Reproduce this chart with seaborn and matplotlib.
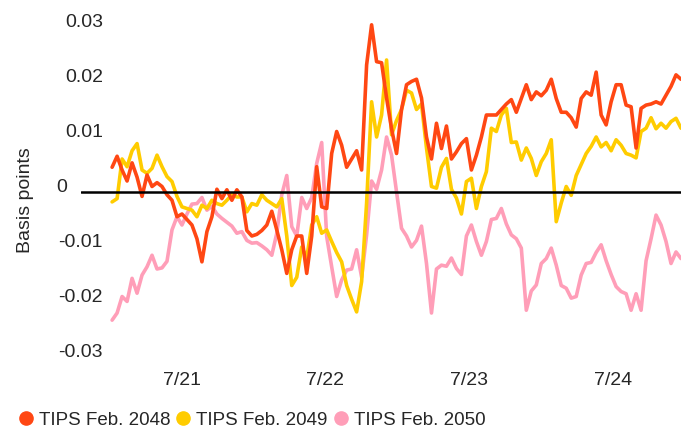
import pandas as pd
import matplotlib
matplotlib.use("Agg")
import matplotlib.pyplot as plt
from matplotlib.lines import Line2D
import seaborn as sns

# basis-point spreads, roughly every 12-13 days
series = ["TIPS Feb. 2048", "TIPS Feb. 2049", "TIPS Feb. 2050"]
colors = ["#FF4713", "#FFCC00", "#FF9EB8"]

tips_2048 = [0.0045, 0.0065, 0.0040, 0.0020, 0.0053, 0.0027, -0.0008, 0.0031, 0.0010, 0.0017,
             0.0010, -0.0005, -0.0015, -0.0045, -0.0040, -0.0050, -0.0060, -0.0085, -0.0127, -0.0072,
             -0.0045, 0.0005, -0.0012, 0.0004, -0.0015, 0.0004, -0.0009, -0.0070, -0.0080, -0.0077,
             -0.0070, -0.0060, -0.0035, -0.0069, -0.0105, -0.0148, -0.0105, -0.0080, -0.0080, -0.0148,
             -0.0080, 0.0046, -0.0027, -0.0030, 0.0070, 0.0110, 0.0085, 0.0045, 0.0060, 0.0075,
             0.0040, 0.0231, 0.0304, 0.0237, 0.0235, 0.0171, 0.0115, 0.0070, 0.0150, 0.0195,
             0.0201, 0.0205, 0.0171, 0.0100, 0.0060, 0.0125, 0.0079, 0.0120, 0.0060, 0.0073,
             0.0088, 0.0097, 0.0040, 0.0067, 0.0100, 0.0140, 0.0140, 0.0140, 0.0150, 0.0160,
             0.0168, 0.0145, 0.0170, 0.0195, 0.0168, 0.0182, 0.0175, 0.0185, 0.0205, 0.0170,
             0.0145, 0.0145, 0.0135, 0.0118, 0.0170, 0.0182, 0.0176, 0.0218, 0.0140, 0.0122,
             0.0164, 0.0195, 0.0195, 0.0158, 0.0155, 0.0080, 0.0152, 0.0158, 0.0160, 0.0164,
             0.0160, 0.0176, 0.0192, 0.0213, 0.0205]

tips_2049 = [-0.0018, -0.0012, 0.0060, 0.0046, 0.0075, 0.0088, 0.0040, 0.0034, 0.0043, 0.0067,
             0.0046, 0.0028, 0.0019, -0.0008, -0.0027, -0.0030, -0.0033, -0.0045, -0.0024, -0.0030,
             -0.0015, -0.0021, -0.0024, -0.0015, -0.0005, -0.0009, -0.0009, -0.0036, -0.0021, -0.0024,
             -0.0005, -0.0015, -0.0021, -0.0027, -0.0012, -0.0080, -0.0170, -0.0155, -0.0100, -0.0120,
             -0.0060, -0.0045, -0.0075, -0.0069, -0.0090, -0.0110, -0.0127, -0.0170, -0.0195, -0.0218,
             -0.0163, -0.0020, 0.0164, 0.0100, 0.0140, 0.0240, 0.0104, 0.0130, 0.0150, 0.0185,
             0.0180, 0.0150, 0.0160, 0.0080, 0.0010, 0.0007, 0.0045, 0.0061, 0.0005, -0.0011,
             -0.0040, 0.0019, 0.0025, -0.0030, 0.0010, 0.0037, 0.0116, 0.0110, 0.0140, 0.0152,
             0.0090, 0.0091, 0.0058, 0.0080, 0.0061, 0.0030, 0.0055, 0.0070, 0.0095, -0.0054,
             -0.0020, 0.0010, -0.0006, 0.0030, 0.0050, 0.0070, 0.0083, 0.0100, 0.0082, 0.0090,
             0.0075, 0.0095, 0.0085, 0.0070, 0.0067, 0.0062, 0.0110, 0.0116, 0.0135, 0.0115,
             0.0125, 0.0116, 0.0128, 0.0134, 0.0116]

tips_2050 = [-0.0233, -0.0220, -0.0190, -0.0199, -0.0157, -0.0184, -0.0151, -0.0136, -0.0115, -0.0140,
             -0.0138, -0.0126, -0.0069, -0.0045, -0.0060, -0.0040, -0.0022, -0.0021, -0.0010, -0.0033,
             -0.0026, -0.0040, -0.0048, -0.0055, -0.0062, -0.0075, -0.0072, -0.0088, -0.0093, -0.0092,
             -0.0098, -0.0105, -0.0115, -0.0075, -0.0005, 0.0030, -0.0063, -0.0080, -0.0010, -0.0030,
             -0.0010, 0.0052, 0.0090, -0.0081, -0.0136, -0.0190, -0.0160, -0.0142, -0.0140, -0.0105,
             -0.0155, -0.0078, 0.0020, 0.0005, 0.0040, 0.0100, 0.0067, 0.0000, -0.0066, -0.0080,
             -0.0100, -0.0088, -0.0062, -0.0130, -0.0220, -0.0140, -0.0133, -0.0135, -0.0120, -0.0139,
             -0.0150, -0.0080, -0.0060, -0.0090, -0.0115, -0.0090, -0.0050, -0.0048, -0.0030, -0.0058,
             -0.0078, -0.0085, -0.0102, -0.0215, -0.0180, -0.0169, -0.0130, -0.0121, -0.0102, -0.0133,
             -0.0170, -0.0175, -0.0193, -0.0190, -0.0151, -0.0130, -0.0128, -0.0110, -0.0096, -0.0125,
             -0.0150, -0.0172, -0.0181, -0.0185, -0.0215, -0.0185, -0.0215, -0.0125, -0.0085, -0.0042,
             -0.0060, -0.0090, -0.0130, -0.0109, -0.0121]

tick_dates = ["2021-07-01", "2022-07-01", "2023-07-01", "2024-07-01"]
tick_labels = ["7/21", "7/22", "7/23", "7/24"]
y_ticks = [0.03, 0.02, 0.01, 0, -0.01, -0.02, -0.03]
y_labels = ["0.03", "0.02", "0.01", "0", "-0.01", "-0.02", "-0.03"]

dates = pd.date_range("2021-01-05", "2024-12-20", periods=len(tips_2048))
df = pd.DataFrame({"date": dates, series[0]: tips_2048,
                   series[1]: tips_2049, series[2]: tips_2050})
df = df.melt(id_vars="date", var_name="bond", value_name="bp")

sns.set_style("white")
plt.rcParams["font.family"] = ["Liberation Sans", "DejaVu Sans"]

fig = plt.figure(figsize=(6.91, 4.29), dpi=100)
ax = fig.add_axes([81 / 691, 61 / 429, 600 / 691, 352 / 429])

sns.lineplot(data=df, x="date", y="bp", hue="bond", hue_order=series,
             palette=colors, linewidth=2.6, errorbar=None, legend=False, ax=ax,
             solid_joinstyle="round", solid_capstyle="round")
# orange on top, pink at the back
for line, z in zip(ax.lines, [4, 3, 2]):
    line.set_zorder(z)
ax.axhline(0, color="black", linewidth=1.8, zorder=5)

ax.set_xlim(pd.Timestamp("2020-10-18"), pd.Timestamp("2024-12-20"))
ax.set_ylim(-0.032, 0.032)
ax.set_xticks([pd.Timestamp(d) for d in tick_dates])
ax.set_xticklabels(tick_labels, fontsize=14)
ax.tick_params(axis="x", length=0, pad=3)
ax.set_yticks([])
ax.set_xlabel("")
ax.set_ylabel("")
for s in ax.spines.values():
    s.set_visible(False)

ytr = ax.get_yaxis_transform()
for v, lab in zip(y_ticks, y_labels):
    xpos = -0.023 if lab == "0" else 0.0367
    ax.text(xpos, v, lab, transform=ytr, ha="right", va="baseline", fontsize=14)

fig.text(26 / 691, 1 - 200 / 429, "Basis points", rotation=90,
         ha="center", va="center", fontsize=14)

handles = [Line2D([], [], marker="o", linestyle="", markersize=9.5, color=c) for c in colors]
fig.legend(handles, series, loc="center left", bbox_to_anchor=(18 / 691, 9 / 429),
           ncol=3, frameon=False, fontsize=13.5, handlelength=0.8, handletextpad=0.3,
           columnspacing=0.3, borderpad=0, borderaxespad=0)

fig.savefig("out.png", dpi=100)
